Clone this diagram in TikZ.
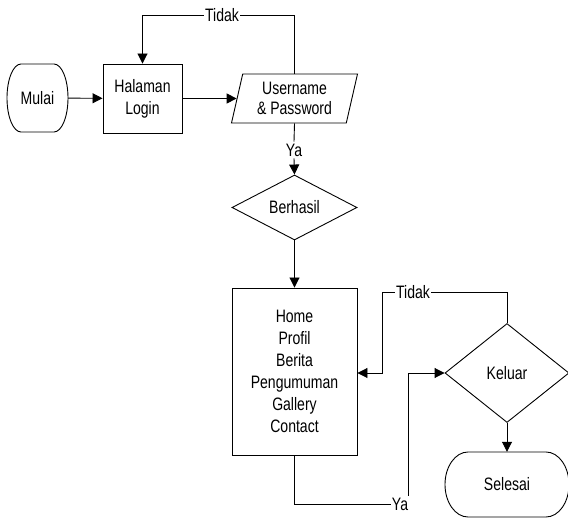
\documentclass[tikz,border=0pt]{standalone}
\usepackage{fontspec}
\setmainfont{Liberation Sans}[FakeStretch=0.78]
\usetikzlibrary{arrows.meta,shapes.geometric}
\begin{document}
\begin{tikzpicture}[x=1pt,y=-1pt,
  every node/.style={font=\fontsize{18}{22}\selectfont, inner sep=0pt},
  box/.style={draw, line width=0.9pt, align=center},
  term/.style={align=center},
  dec/.style={box, diamond},
  io/.style={box, trapezium, trapezium left angle=71, trapezium right angle=109, trapezium stretches body},
  lbl/.style={fill=white, inner xsep=1pt, inner ysep=2pt},
  line/.style={line width=0.9pt},
  arr/.style={line, -{Triangle[length=10pt,width=10pt]}}]
\useasboundingbox (0,0) rectangle (568,518);
\node[term, minimum width=61pt, minimum height=68pt] (mulai) at (37.5,98) {Mulai};
\draw[line] (21,64) -- (54,64) .. controls (61.7,64) and (68,79.2) .. (68,98) .. controls (68,116.8) and (61.7,132) .. (54,132) -- (21,132) .. controls (13.3,132) and (7,116.8) .. (7,98) .. controls (7,79.2) and (13.3,64) .. cycle;
\node[box, minimum width=79pt, minimum height=69pt] (login) at (142.5,98.5) {Halaman\\Login};
\node[io, minimum width=126pt, minimum height=49pt] (user) at (294.5,98.5) {Username\\[-2pt]\& Password};
\node[dec, minimum width=125pt, minimum height=65pt] (berhasil) at (294.5,207.5) {Berhasil};
\node[box, minimum width=125pt, minimum height=167pt] (menu) at (294.5,371.5) {Home\\Profil\\Berita\\Pengumuman\\Gallery\\Contact};
\node[dec, minimum width=124pt, minimum height=99pt] (keluar) at (507,373) {Keluar};
\node[term, minimum width=124pt, minimum height=65pt] (selesai) at (507,484.5) {Selesai};
\draw[line] (468,452) -- (546,452) .. controls (558.7,452) and (569,466.6) .. (569,484.5) .. controls (569,502.4) and (558.7,517) .. (546,517) -- (468,517) .. controls (455.3,517) and (445,502.4) .. (445,484.5) .. controls (445,466.6) and (455.3,452) .. cycle;
\node[lbl] (tidak1) at (222,15) {Tidak};
\node[lbl] (ya1) at (294,150) {Ya};
\node[lbl] (tidak2) at (413,292) {Tidak};
\node[lbl] (ya2) at (400,504) {Ya};
\coordinate (c1) at (382,373);
\coordinate (c2) at (408,373);
\draw[arr] (mulai) -- (login);
\draw[arr] (login.east) -- (user.west);
\draw[line] (user.north) |- (tidak1.east);
\draw[arr] (tidak1.west) -| (login.north);
\draw[line] (user.south) -- (ya1.north);
\draw[arr] (ya1.south) -- (berhasil.north);
\draw[arr] (berhasil.south) -- (menu.north);
\draw[line] (keluar.north) |- (tidak2.east);
\draw[arr] (tidak2.west) -| (c1) -- (menu.east |- c1);
\draw[line] (menu.south) |- (ya2.west);
\draw[arr] (c2 |- ya2.north) -- (c2) -- (keluar.west);
\draw[arr] (keluar.south) -- (selesai.north);
\end{tikzpicture}
\end{document}
